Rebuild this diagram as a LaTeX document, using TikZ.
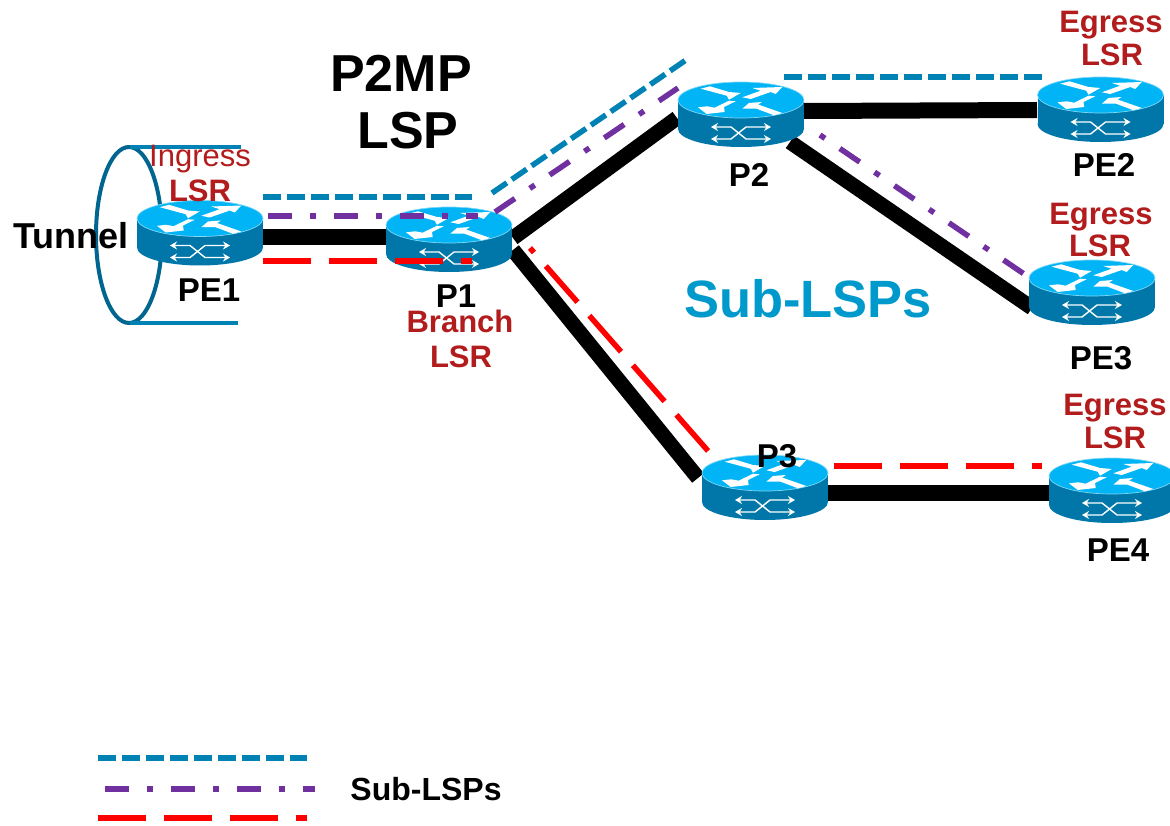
\documentclass[tikz,border=0pt]{standalone}
\usepackage{fontspec}
\setmainfont{Liberation Sans}
\usetikzlibrary{arrows.meta,shapes.geometric}
\definecolor{rtop}{HTML}{00B4F5}
\definecolor{rbody}{HTML}{0077A8}
\definecolor{redge}{HTML}{7FD8F5}
\definecolor{lblue}{HTML}{0082B4}
\definecolor{lpurple}{HTML}{7030A0}
\definecolor{tunring}{HTML}{00658F}
\definecolor{lsrred}{HTML}{B21C1C}
\definecolor{subblue}{HTML}{0099CC}
\newcommand\fs[1]{\fontsize{#1}{#1}\selectfont}
\tikzset{
  routerbox/.style={minimum width=126pt,minimum height=65pt,inner sep=0pt,outer sep=0pt,draw=none},
  blacklink/.style={line width=15pt,black},
  blued/.style={line width=5.5pt,lblue,dash pattern=on 18pt off 6pt},
  purpled/.style={line width=5.5pt,lpurple,dash pattern=on 24pt off 18pt on 6pt off 18pt},
  redd/.style={line width=5.5pt,red,dash pattern=on 48pt off 18pt},
  caplabel/.style={anchor=base,inner sep=0pt,font=\bfseries\fs{33}},
  lsr/.style={anchor=base,inner sep=0pt,text=lsrred,font=\bfseries\fs{31}},
  xarrow/.style={line width=1.4pt,white,{Stealth[length=7pt,width=8pt]}-{Stealth[length=7pt,width=8pt]}},
}
\newcommand\routericon[1]{%
  \begin{scope}[shift={(#1.north west)}]
    \fill[rbody] (0,18) rectangle (126,47);
    \fill[rbody] (63,47) ellipse [x radius=63,y radius=18];
    \fill[rtop] (63,18) ellipse [x radius=63,y radius=18];
    \draw[redge,line width=0.7pt] (63,18) ellipse [x radius=63,y radius=18];
    \fill[white] (22.7,6.7)--(32,4.3)--(51,10)--(62.7,11)--(51,17.7)--(48.7,13.7)--cycle;
    \fill[white] (64.3,15.3)--(82.7,8.7)--(74.3,6)--(104.3,5)--(97.7,12)--(92.7,10)--(72.7,17)--cycle;
    \fill[white] (57.7,19.3)--(46,25)--(46.7,30)--(28.7,32)--(20,25.3)--(29.3,24.3)--(36.7,25.7)--(51,18.7)--cycle;
    \fill[white] (64.3,26.7)--(71,21)--(84,20)--(80,22.5)--(104.3,31)--(96,33.3)--(78,26.5)--cycle;
    \draw[xarrow] (33,45)--(53,45)--(68,57)--(93,57);
    \draw[xarrow] (33,57)--(53,57)--(68,45)--(93,45);
  \end{scope}}
\begin{document}
\begin{tikzpicture}[x=1pt,y=-1pt]
\useasboundingbox (0,0) rectangle (1170,826);
\clip (0,0) rectangle (1170,826);
% tunnel
\node[draw=tunring,line width=4pt,ellipse,inner sep=0pt,minimum width=66pt,minimum height=176pt] (tunnelring) at (129,235) {};
\coordinate (tt1) at (130,147); \coordinate (tt2) at (241,147);
\coordinate (tb1) at (130,323); \coordinate (tb2) at (238,323);
\draw[lblue,line width=4.5pt] (tt1)--(tt2);
\draw[lblue,line width=4.5pt] (tb1)--(tb2);
% routers
\node[routerbox] (PE1) at (200,233) {};
\node[routerbox] (P1) at (449,239.5) {};
\node[routerbox] (P2) at (741,114.5) {};
\node[routerbox] (P3) at (765,487.5) {};
\node[routerbox] (PE2) at (1100.5,109.5) {};
\node[routerbox] (PE3) at (1092,292.5) {};
\node[routerbox] (PE4) at (1112,490.5) {};
% link end points
\coordinate (a1) at (263,237); \coordinate (a2) at (386,237);
\coordinate (b1) at (513,238); \coordinate (b2) at (677,118);
\coordinate (c1) at (513,250); \coordinate (c2) at (698,478);
\coordinate (d1) at (804,111); \coordinate (d2) at (1037,110);
\coordinate (e1) at (790,142); \coordinate (e2) at (1032,308);
\coordinate (f1) at (827,493); \coordinate (f2) at (1049,493);
\draw[blacklink,line width=16pt] (a1)--(a2);
\draw[blacklink] (b1)--(b2);
\draw[blacklink] (c1)--(c2);
\draw[blacklink,line width=16pt] (d1)--(d2);
\draw[blacklink] (e1)--(e2);
\draw[blacklink,line width=16pt] (f1)--(f2);
\routericon{PE1}\routericon{P1}\routericon{P2}\routericon{P3}\routericon{PE2}\routericon{PE3}\routericon{PE4}
% sub-LSP paths
\coordinate (g1) at (263,197); \coordinate (g2) at (472,197);
\coordinate (g3) at (492,193); \coordinate (g4) at (686,60);
\coordinate (g5) at (784,77); \coordinate (g6) at (1042,77);
\draw[blued] (g1)--(g2);
\draw[blued] (g3)--(g4);
\draw[blued] (g5)--(g6);
\coordinate (h1) at (268,216); \coordinate (h2) at (478,216);
\coordinate (h3) at (495,212); \coordinate (h4) at (678,88);
\coordinate (h5) at (820,135); \coordinate (h6) at (1027,276);
\draw[purpled] (h1)--(h2);
\draw[purpled] (h3)--(h4);
\draw[purpled,dash phase=42pt] (h5)--(h6);
\coordinate (r1) at (263,261); \coordinate (r2) at (472,261);
\coordinate (r3) at (530,248); \coordinate (r4) at (709,452);
\coordinate (r5) at (834,466); \coordinate (r6) at (1042,466);
\draw[redd] (r1)--(r2);
\draw[redd,dash phase=42pt] (r3)--(r4);
\draw[redd] (r5)--(r6);
% legend
\coordinate (l1) at (98,758); \coordinate (l2) at (307,758);
\coordinate (l3) at (105,789); \coordinate (l4) at (315,789);
\coordinate (l5) at (98,818); \coordinate (l6) at (307,818);
\draw[blued] (l1)--(l2);
\draw[purpled] (l3)--(l4);
\draw[redd] (l5)--(l6);
% labels
\node[caplabel,font=\bfseries\fs{52}] (t1) at (401,92) {P2MP};
\node[caplabel,font=\bfseries\fs{52}] (t2) at (408,149) {LSP};
\node[caplabel,font=\bfseries\fs{36}] (t3) at (71,249) {Tunnel};
\node[caplabel,text=subblue,font=\bfseries\fs{52.5}] (t4) at (808,318) {Sub-LSPs};
\node[caplabel,font=\bfseries\fs{32}] (t5) at (426,800) {Sub-LSPs};
\node[caplabel] (n1) at (209,302) {PE1};
\node[caplabel] (n2) at (456,308) {P1};
\node[caplabel] (n3) at (749,187) {P2};
\node[caplabel] (n4) at (777,467) {P3};
\node[caplabel] (n5) at (1104,177) {PE2};
\node[caplabel] (n6) at (1101,369) {PE3};
\node[caplabel] (n7) at (1118,561) {PE4};
\node[lsr,font=\fs{31}] (s1) at (200,167) {Ingress};
\node[lsr] (s2) at (200,202) {LSR};
\node[lsr] (s3) at (460,332) {Branch};
\node[lsr] (s4) at (461,367) {LSR};
\node[lsr] (s5) at (1111,33) {Egress};
\node[lsr] (s6) at (1112,66) {LSR};
\node[lsr] (s7) at (1101,225) {Egress};
\node[lsr] (s8) at (1100,257) {LSR};
\node[lsr] (s9) at (1115,415) {Egress};
\node[lsr] (s10) at (1115,448) {LSR};
\end{tikzpicture}
\end{document}
